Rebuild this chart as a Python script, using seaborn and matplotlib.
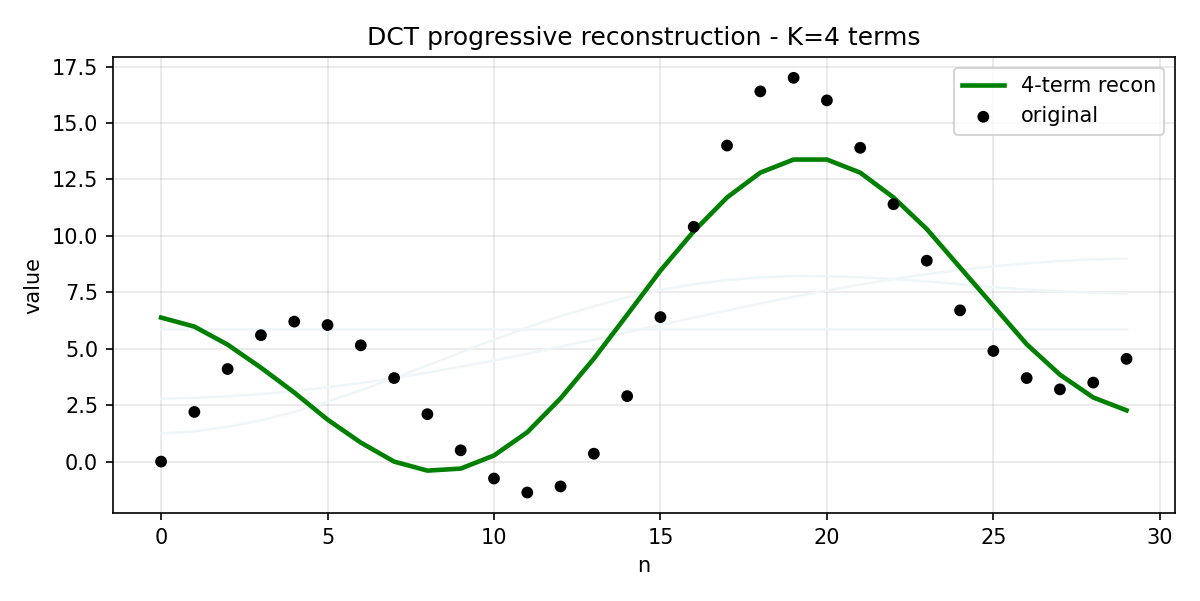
import numpy as np
import pandas as pd
import matplotlib
matplotlib.use("Agg")
import matplotlib.pyplot as plt
import seaborn as sns

n = list(range(30))
original = [0.0, 2.2, 4.1, 5.6, 6.2, 6.05, 5.15, 3.7, 2.1, 0.5,
            -0.75, -1.37, -1.1, 0.35, 2.9, 6.4, 10.4, 14.0, 16.4, 17.0,
            16.0, 13.9, 11.4, 8.9, 6.7, 4.9, 3.7, 3.2, 3.5, 4.55]
recon_k4 = [6.38, 5.98, 5.18, 4.16, 3.06, 1.86, 0.84, 0.0, -0.4, -0.31,
            0.27, 1.3, 2.8, 4.56, 6.5, 8.46, 10.2, 11.7, 12.8, 13.38,
            13.38, 12.8, 11.7, 10.3, 8.6, 6.9, 5.2, 3.85, 2.84, 2.27]
recon_k1 = [5.89] * 30
recon_k2 = [2.79, 2.82, 2.89, 2.99, 3.12, 3.29, 3.48, 3.70, 3.94, 4.20,
            4.48, 4.78, 5.09, 5.40, 5.73, 6.05, 6.38, 6.69, 7.00, 7.30,
            7.58, 7.84, 8.09, 8.30, 8.49, 8.65, 8.78, 8.89, 8.96, 8.99]
recon_k3 = [1.24, 1.34, 1.54, 1.83, 2.20, 2.66, 3.16, 3.70, 4.26, 4.83,
            5.40, 5.94, 6.44, 6.88, 7.28, 7.60, 7.86, 8.04, 8.16, 8.22,
            8.21, 8.16, 8.09, 7.98, 7.86, 7.73, 7.62, 7.54, 7.48, 7.44]

fig, ax = plt.subplots(figsize=(8, 4.0067), dpi=150)
fig.subplots_adjust(left=0.094, right=0.979, top=0.905, bottom=0.146)

for prev in (recon_k1, recon_k2, recon_k3):
    sns.lineplot(x=n, y=prev, ax=ax, color="#eef6f8", lw=1.2, legend=False)

sns.lineplot(x=n, y=recon_k4, ax=ax, color="green", lw=2.2, label="4-term recon")
sns.scatterplot(x=n, y=original, ax=ax, color="black", s=32, edgecolor="none",
                label="original", zorder=3)

ax.set_title("DCT progressive reconstruction - K=4 terms", fontsize=12)
ax.set_xlabel("n")
ax.set_ylabel("value")
ax.grid(True, alpha=0.3)
ax.legend(loc="upper right")
fig.savefig("out.png", dpi=150)
